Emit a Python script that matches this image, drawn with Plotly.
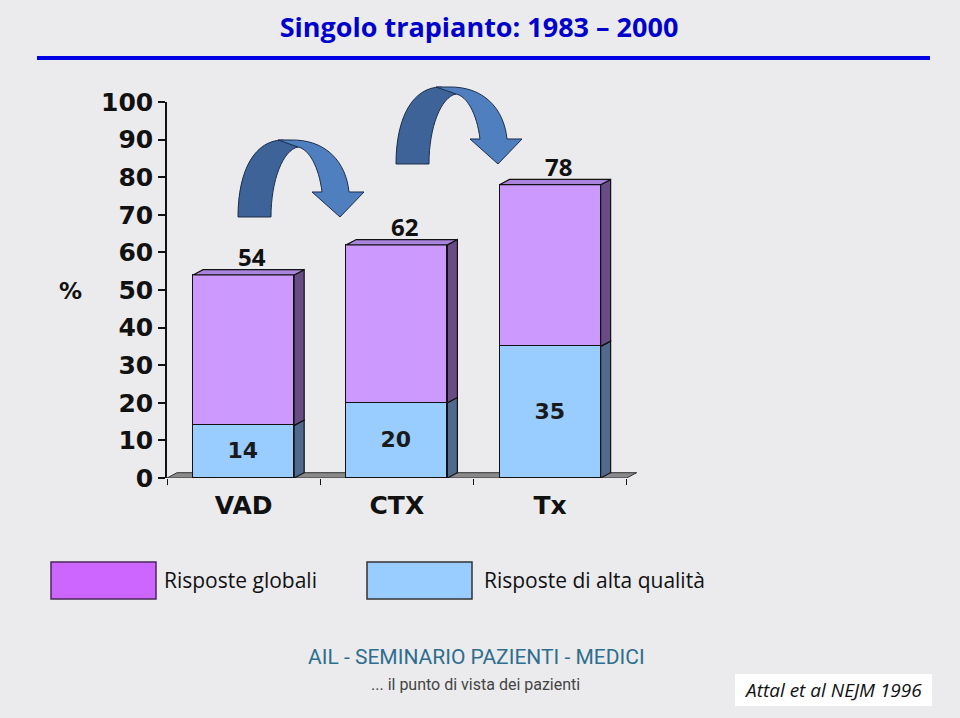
import plotly.graph_objects as go

# ---------------- data ----------------
categories = ["VAD", "CTX", "Tx"]
risposte_globali = [54, 62, 78]          # total response (bar top)
risposte_alta_qualita = [14, 20, 35]     # high-quality response (lower segment)
y_tick_values = list(range(0, 101, 10))
legend_labels = ["Risposte globali", "Risposte di alta qualità"]

# ---------------- layout geometry ----------------
FIG_W, FIG_H = 960, 718
L, R, T, B = 167, 642, 102, 478          # plot area in pixels
XR = [-0.5, 2.6]
YR = [0, 100]
PX_PER_X = (R - L) / (XR[1] - XR[0])
PX_PER_Y = (B - T) / (YR[1] - YR[0])
BAR_W = 0.66
DX = 10 / PX_PER_X                       # 3D depth in data units
DY = 5.3 / PX_PER_Y

BG = "#ebebed"
C_PURPLE = "#cc99ff"
C_PURPLE_SIDE = "#674c86"
C_PURPLE_TOP = "#a983dc"
C_BLUE = "#99ccff"
C_BLUE_SIDE = "#4f6a8c"


def pxx(x):
    return (x - L) / (R - L)


def pxy(y):
    return (B - y) / (B - T)


fig = go.Figure()

x_pos = list(range(len(categories)))
upper = [g - a for g, a in zip(risposte_globali, risposte_alta_qualita)]

fig.add_trace(go.Bar(
    x=x_pos, y=risposte_alta_qualita, width=BAR_W,
    marker=dict(color=C_BLUE, line=dict(color="#111111", width=1.5)),
    text=[str(v) for v in risposte_alta_qualita], textposition="inside",
    insidetextanchor="middle", textangle=0,
    textfont=dict(family="DejaVu Sans", size=22, color="#1a1a1a", weight="bold"),
    name=legend_labels[1], showlegend=False, hoverinfo="skip",
))
fig.add_trace(go.Bar(
    x=x_pos, y=upper, width=BAR_W,
    marker=dict(color=C_PURPLE, line=dict(color="#111111", width=1.5)),
    name=legend_labels[0], showlegend=False, hoverinfo="skip",
))

# 3D side and top faces computed from the data
for i, (a, g) in enumerate(zip(risposte_alta_qualita, risposte_globali)):
    xr = i + BAR_W / 2
    xl = i - BAR_W / 2
    for y0, y1, col in [(0, a, C_BLUE_SIDE), (a, g, C_PURPLE_SIDE)]:
        fig.add_trace(go.Scatter(
            x=[xr, xr + DX, xr + DX, xr, xr], y=[y0, y0 + DY, y1 + DY, y1, y0],
            mode="lines", fill="toself", fillcolor=col,
            line=dict(color="#111111", width=1.2),
            showlegend=False, hoverinfo="skip",
        ))
    fig.add_trace(go.Scatter(
        x=[xl, xl + DX, xr + DX, xr, xl], y=[g, g + DY, g + DY, g, g],
        mode="lines", fill="toself", fillcolor=C_PURPLE_TOP,
        line=dict(color="#111111", width=1.2),
        showlegend=False, hoverinfo="skip",
    ))

# invisible trace to carry the category axis
fig.add_trace(go.Scatter(x=x_pos, y=[0] * len(x_pos), xaxis="x2", mode="markers",
                         marker=dict(opacity=0), showlegend=False, hoverinfo="skip"))

# floor
fx0, fx1 = -0.5, 2.5
fig.add_shape(type="path", xref="x", yref="y", layer="below",
              path=f"M {fx0},0 L {fx1},0 L {fx1 + DX},{DY} L {fx0 + DX},{DY} Z",
              fillcolor="#8a8a8a", line=dict(color="#333333", width=1))

# total labels
for i, g in enumerate(risposte_globali):
    fig.add_annotation(x=i, y=g, xref="x", yref="y", text=str(g), showarrow=False,
                       xshift=8, yshift=18, xanchor="center", yanchor="middle",
                       font=dict(family="Open Sans", size=24, color="#111111", weight="bold"))

# curved arrows (decoration)
def arrow_paths(ox, oy):
    def P(dx, dy):
        return f"{pxx(ox + dx):.5f},{pxy(oy + dy):.5f}"
    dark = (f"M {P(0,0)} C {P(0,-47)} {P(17,-77)} {P(45,-77)} L {P(60,-70)} "
            f"C {P(45,-67)} {P(33,-37)} {P(33,0)} Z")
    light = (f"M {P(40,-77)} L {P(52,-77)} C {P(88,-78)} {P(108,-55)} {P(111,-25)} "
             f"L {P(126,-25)} L {P(102,0)} L {P(74,-25)} L {P(84,-25)} "
             f"C {P(81,-50)} {P(71,-68)} {P(60,-70)} Z")
    return dark, light

for ox, oy in [(238, 217), (396, 164)]:
    dark, light = arrow_paths(ox, oy)
    fig.add_shape(type="path", xref="paper", yref="paper", path=dark,
                  fillcolor="#3d6399", line=dict(color="#1c2d4a", width=1))
    fig.add_shape(type="path", xref="paper", yref="paper", path=light,
                  fillcolor="#4f7fbf", line=dict(color="#1c2d4a", width=1))

# title rule
fig.add_shape(type="line", xref="paper", yref="paper",
              x0=pxx(37), x1=pxx(930), y0=pxy(58), y1=pxy(58),
              line=dict(color="#0000e6", width=4))

# % label
fig.add_annotation(x=pxx(70), y=pxy(291), xref="paper", yref="paper", text="%",
                   showarrow=False, xanchor="center", yanchor="middle",
                   font=dict(family="DejaVu Sans", size=23, color="#111111", weight="bold"))

# legend (boxes + text)
for (x0, x1, col, lc), label, tx in [((51, 156, "#cc66ff", "#4a2a5a"), legend_labels[0], 162),
                                     ((367, 472, C_BLUE, "#333333"), legend_labels[1], 482)]:
    fig.add_shape(type="rect", xref="paper", yref="paper",
                  x0=pxx(x0), x1=pxx(x1), y0=pxy(562), y1=pxy(599),
                  fillcolor=col, line=dict(color=lc, width=1.5))
    fig.add_annotation(x=pxx(tx), y=pxy(580), xref="paper", yref="paper", text=label,
                       showarrow=False, xanchor="left", yanchor="middle",
                       font=dict(family="Open Sans", size=21, color="#111111"))

# footer
fig.add_annotation(x=pxx(476), y=pxy(657), xref="paper", yref="paper",
                   text="AIL - SEMINARIO PAZIENTI - MEDICI", showarrow=False,
                   xanchor="center", yanchor="middle",
                   font=dict(family="Roboto", size=21, color="#2e6e8e"))
fig.add_annotation(x=pxx(475), y=pxy(684), xref="paper", yref="paper",
                   text="... il punto di vista dei pazienti", showarrow=False,
                   xanchor="center", yanchor="middle",
                   font=dict(family="Roboto", size=16, color="#444444"))
fig.add_shape(type="rect", xref="paper", yref="paper",
              x0=pxx(735), x1=pxx(932), y0=pxy(674), y1=pxy(706),
              fillcolor="#ffffff", line=dict(width=0))
fig.add_annotation(x=pxx(833), y=pxy(690), xref="paper", yref="paper",
                   text="<i>Attal et al NEJM 1996</i>", showarrow=False,
                   xanchor="center", yanchor="middle",
                   font=dict(family="Open Sans", size=19, color="#111111"))

fig.update_layout(
    width=FIG_W, height=FIG_H,
    margin=dict(l=L, r=FIG_W - R, t=T, b=FIG_H - B, pad=0),
    paper_bgcolor=BG, plot_bgcolor=BG,
    barmode="stack", bargap=0, hovermode=False,
    title=dict(text="Singolo trapianto: 1983 – 2000", x=479 / FIG_W, xref="container",
               xanchor="center", y=1 - 28 / FIG_H, yref="container", yanchor="middle",
               font=dict(family="Open Sans", size=27, color="#0000cc", weight="bold")),
    xaxis=dict(range=XR, tickvals=[-0.5, 0.5, 1.5, 2.5], ticks="outside", ticklen=6,
               tickwidth=1, tickcolor="#111111", showticklabels=False,
               showline=False, showgrid=False, zeroline=False, fixedrange=True),
    xaxis2=dict(range=XR, overlaying="x", anchor="y", side="bottom",
                tickvals=x_pos, ticktext=categories, ticks="", ticklabelstandoff=10,
                tickfont=dict(family="DejaVu Sans", size=25, color="#111111", weight="bold"),
                showline=False, showgrid=False, zeroline=False, fixedrange=True),
    yaxis=dict(range=YR, tickvals=y_tick_values, ticks="outside", ticklen=7, tickwidth=1.5,
               tickcolor="#111111", showline=True, linecolor="#111111", linewidth=1.5,
               ticklabelstandoff=0,
               tickfont=dict(family="DejaVu Sans", size=25, color="#111111", weight="bold"),
               showgrid=False, zeroline=False, fixedrange=True),
)

fig.write_html("out.html")
